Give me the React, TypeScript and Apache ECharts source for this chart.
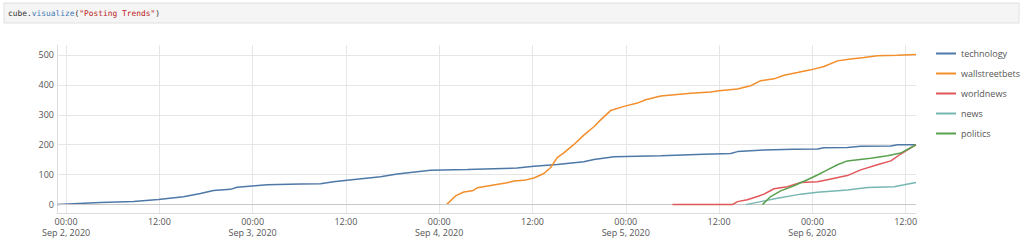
import React, { useEffect, useRef } from "react";
import * as echarts from "echarts";

const seriesNames = ["technology", "wallstreetbets", "worldnews", "news", "politics"];
const seriesColors = ["#4e79a7", "#f28e2b", "#e15759", "#76b7b2", "#59a14f"];

const technologyTimes = [
  "2020-09-01 22:50", "2020-09-02 04:25", "2020-09-02 08:40", "2020-09-02 11:53", "2020-09-02 15:06",
  "2020-09-02 17:17", "2020-09-02 18:58", "2020-09-02 21:09", "2020-09-02 22:00", "2020-09-02 23:56",
  "2020-09-03 01:52", "2020-09-03 06:09", "2020-09-03 08:44", "2020-09-03 10:24", "2020-09-03 12:10",
  "2020-09-03 16:27", "2020-09-03 18:36", "2020-09-03 22:53", "2020-09-04 03:36", "2020-09-04 10:02",
  "2020-09-04 12:11", "2020-09-04 15:11", "2020-09-04 18:36", "2020-09-04 19:54", "2020-09-04 22:30",
  "2020-09-05 04:30", "2020-09-05 10:04", "2020-09-05 13:30", "2020-09-05 14:22", "2020-09-05 17:48",
  "2020-09-05 21:36", "2020-09-06 00:39", "2020-09-06 01:30", "2020-09-06 04:30", "2020-09-06 06:13",
  "2020-09-06 10:06", "2020-09-06 10:57", "2020-09-06 13:20",
];
const technologyValues = [
  0, 7, 10, 17, 26, 37, 47, 51, 58, 62, 66, 69, 70, 76, 81, 93, 102, 115, 117, 122,
  128, 134, 143, 151, 160, 163, 168, 171, 177, 182, 185, 186, 190, 191, 195, 196, 200, 200,
];

const wallstreetbetsTimes = [
  "2020-09-04 00:56", "2020-09-04 02:06", "2020-09-04 03:10", "2020-09-04 04:15", "2020-09-04 04:54",
  "2020-09-04 06:36", "2020-09-04 08:45", "2020-09-04 09:36", "2020-09-04 10:54", "2020-09-04 12:11",
  "2020-09-04 13:28", "2020-09-04 14:20", "2020-09-04 15:11", "2020-09-04 16:02", "2020-09-04 17:20",
  "2020-09-04 18:36", "2020-09-04 19:54", "2020-09-04 20:46", "2020-09-04 22:03", "2020-09-04 23:46",
  "2020-09-05 01:30", "2020-09-05 02:34", "2020-09-05 04:30", "2020-09-05 08:21", "2020-09-05 10:55",
  "2020-09-05 12:00", "2020-09-05 14:22", "2020-09-05 16:04", "2020-09-05 17:22", "2020-09-05 19:04",
  "2020-09-05 20:22", "2020-09-05 22:05", "2020-09-05 23:47", "2020-09-06 01:30", "2020-09-06 03:14",
  "2020-09-06 04:56", "2020-09-06 06:39", "2020-09-06 08:22", "2020-09-06 10:57", "2020-09-06 13:20",
];
const wallstreetbetsValues = [
  0, 29, 42, 46, 56, 64, 73, 79, 81, 89, 104, 124, 157, 173, 201, 232, 260, 283, 314, 328,
  339, 350, 363, 372, 376, 380, 386, 397, 414, 420, 432, 441, 450, 461, 480, 486, 491, 497, 499, 501,
];

const worldnewsTimes = [
  "2020-09-05 06:00", "2020-09-05 13:43", "2020-09-05 14:22", "2020-09-05 15:38", "2020-09-05 16:56",
  "2020-09-05 17:47", "2020-09-05 19:04", "2020-09-05 20:48", "2020-09-05 22:30", "2020-09-06 00:39",
  "2020-09-06 01:56", "2020-09-06 04:30", "2020-09-06 06:13", "2020-09-06 08:22", "2020-09-06 10:06",
  "2020-09-06 11:22", "2020-09-06 13:20",
];
const worldnewsValues = [0, 0, 10, 16, 27, 35, 53, 60, 74, 76, 83, 97, 116, 133, 146, 169, 200];

const newsTimes = [
  "2020-09-05 15:26", "2020-09-05 17:22", "2020-09-05 19:30", "2020-09-05 22:30", "2020-09-06 00:39",
  "2020-09-06 04:30", "2020-09-06 07:06", "2020-09-06 10:31", "2020-09-06 11:48", "2020-09-06 13:20",
];
const newsValues = [0, 10, 21, 35, 41, 49, 57, 60, 66, 74];

const politicsTimes = [
  "2020-09-05 17:35", "2020-09-05 18:38", "2020-09-05 19:56", "2020-09-05 21:38", "2020-09-05 23:22",
  "2020-09-06 00:39", "2020-09-06 01:56", "2020-09-06 03:14", "2020-09-06 04:30", "2020-09-06 07:30",
  "2020-09-06 09:40", "2020-09-06 11:22", "2020-09-06 13:20",
];
const politicsValues = [0, 27, 46, 63, 83, 99, 116, 133, 146, 155, 163, 172, 200];

const xRangeStart = "2020-09-01 22:50";
const xRangeEnd = "2020-09-06 13:20";
const xTickTimes = [
  "2020-09-02 00:00", "2020-09-02 12:00", "2020-09-03 00:00", "2020-09-03 12:00", "2020-09-04 00:00",
  "2020-09-04 12:00", "2020-09-05 00:00", "2020-09-05 12:00", "2020-09-06 00:00", "2020-09-06 12:00",
];
const yRangeMin = -28;
const yRangeMax = 533;
const yTickValues = [0, 100, 200, 300, 400, 500];
const monthNames = ["Jan", "Feb", "Mar", "Apr", "May", "Jun", "Jul", "Aug", "Sep", "Oct", "Nov", "Dec"];

const codeText = ["cube", ".", "visualize", "(", "\"Posting Trends\"", ")"];

const toMs = (s: string) => Date.parse(s.replace(" ", "T") + ":00Z");
const pad = (n: number) => (n < 10 ? "0" + n : "" + n);

const allTimes = [technologyTimes, wallstreetbetsTimes, worldnewsTimes, newsTimes, politicsTimes];
const allValues = [technologyValues, wallstreetbetsValues, worldnewsValues, newsValues, politicsValues];

export default function App() {
  const ref = useRef<HTMLDivElement>(null);
  useEffect(() => {
    if (!ref.current) return;
    const chart = echarts.init(ref.current, undefined, { renderer: "svg" });
    const font = "'Open Sans', sans-serif";
    const mono = "'DejaVu Sans Mono', monospace";
    const xTicks = xTickTimes.map(toMs);
    const option: any = {
      animation: false,
      backgroundColor: "#ffffff",
      textStyle: { fontFamily: font },
      graphic: [
        {
          type: "rect",
          shape: { x: 4, y: 3, width: 1015, height: 20 },
          style: { fill: "#f5f5f5", stroke: "#e0e0e0", lineWidth: 1 },
          silent: true,
        },
        {
          type: "text",
          x: 8,
          y: 13,
          silent: true,
          style: {
            text:
              "{k|" + codeText[0] + "}{p|" + codeText[1] + "}{f|" + codeText[2] + "}{p|" +
              codeText[3] + "}{s|" + codeText[4] + "}{p|" + codeText[5] + "}",
            verticalAlign: "middle",
            font: "7.9px " + mono,
            rich: {
              k: { fill: "#333333", fontSize: 7.9, fontFamily: mono },
              p: { fill: "#333333", fontSize: 7.9, fontFamily: mono },
              f: { fill: "#3a78b5", fontSize: 7.9, fontFamily: mono },
              s: { fill: "#ba2121", fontSize: 7.9, fontFamily: mono },
            },
          },
        },
      ],
      grid: { left: 57, right: 108, top: 45, bottom: 33 },
      legend: {
        orient: "vertical",
        left: 931,
        top: 44,
        icon: "rect",
        itemWidth: 20,
        itemHeight: 2,
        itemGap: 11,
        textStyle: { color: "#555555", fontSize: 9, fontFamily: font },
        data: seriesNames,
      },
      xAxis: {
        type: "value",
        min: toMs(xRangeStart),
        max: toMs(xRangeEnd),
        axisLine: { show: true, onZero: false, lineStyle: { color: "#dddddd", width: 1 } },
        axisTick: { show: false, customValues: xTicks },
        splitLine: { show: true, lineStyle: { color: "#e6e6e6", width: 1 } },
        axisLabel: {
          customValues: xTicks,
          color: "#555555",
          fontSize: 9,
          fontFamily: font,
          lineHeight: 11,
          margin: 3,
          hideOverlap: false,
          formatter: (value: number) => {
            const d = new Date(value);
            const hm = pad(d.getUTCHours()) + ":" + pad(d.getUTCMinutes());
            if (d.getUTCHours() === 0 && d.getUTCMinutes() === 0) {
              return hm + "\n" + monthNames[d.getUTCMonth()] + " " + d.getUTCDate() + ", " + d.getUTCFullYear();
            }
            return hm;
          },
        },
      },
      yAxis: {
        type: "value",
        min: yRangeMin,
        max: yRangeMax,
        axisLine: { show: true, onZero: false, lineStyle: { color: "#dddddd", width: 1 } },
        axisTick: { show: false, customValues: yTickValues },
        splitLine: { show: true, lineStyle: { color: "#e6e6e6", width: 1 } },
        axisLabel: {
          customValues: yTickValues,
          color: "#555555",
          fontSize: 9,
          fontFamily: font,
          margin: 3,
        },
      },
      series: seriesNames.map((name, i) => ({
        name,
        type: "line",
        showSymbol: false,
        symbol: "none",
        color: seriesColors[i],
        lineStyle: { width: 1.5, color: seriesColors[i] },
        data: allTimes[i].map((t, j) => [toMs(t), allValues[i][j]]),
        z: 3 + i,
        ...(i === 0
          ? {
              markLine: {
                silent: true,
                symbol: "none",
                label: { show: false },
                lineStyle: { color: "#c8c8c8", type: "solid", width: 1 },
                data: [{ yAxis: 0 }],
              },
            }
          : {}),
      })),
    };
    chart.setOption(option);
    return () => chart.dispose();
  }, []);
  return (
    <div
      ref={ref}
      style={{ position: "fixed", left: 0, top: 0, width: 1024, height: 246, background: "#fff" }}
    />
  );
}
